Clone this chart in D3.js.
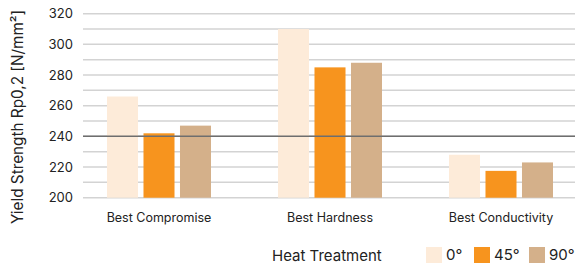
<!DOCTYPE html>
<html>
<head>
<meta charset="utf-8">
<script src="https://cdn.jsdelivr.net/npm/d3@7"></script>
<style>
  body { margin: 0; background: #fff; }
  text { font-family: Inter, "Noto Sans", sans-serif; fill: #222; }
</style>
</head>
<body>
<div id="chart"></div>
<script>
// yield strength per heat treatment angle
var categories = ["Best Compromise", "Best Hardness", "Best Conductivity"];
var seriesNames = ["0°", "45°", "90°"];
var values0 = [266, 310, 228];
var values45 = [242, 285, 217.5];
var values90 = [247, 288, 223];
var yTicks = [200, 220, 240, 260, 280, 300, 320];
var refValue = 240;

var w = 575, h = 269;
var colors = ["#fdebd9", "#f7941e", "#d4b08a"];
var allSeries = [values0, values45, values90];

var svg = d3.select("#chart").append("svg")
  .attr("width", w).attr("height", h);

var y = d3.scaleLinear().domain([200, 320]).range([197.7, 13.7]);
var x0 = d3.scaleBand().domain(categories).range([73.5, 586.5]);
var x1 = d3.scaleBand().domain(seriesNames).range([0, 104]).paddingInner(0.15);

// minor grid every 10
svg.append("g").selectAll("line")
  .data(d3.range(200, 321, 10))
  .enter().append("line")
  .attr("x1", 83).attr("x2", 575)
  .attr("y1", function(d) { return y(d); })
  .attr("y2", function(d) { return y(d); })
  .attr("stroke", "#d3d3d3")
  .attr("stroke-width", 1.5);

// bars
var groups = svg.append("g").selectAll("g")
  .data(categories).enter().append("g")
  .attr("transform", function(d) {
    return "translate(" + (x0(d) + x0.bandwidth() / 2 - 52) + ",0)";
  });

groups.selectAll("rect")
  .data(function(d, i) {
    return seriesNames.map(function(s, j) { return { s: s, v: allSeries[j][i], j: j }; });
  })
  .enter().append("rect")
  .attr("x", function(d) { return x1(d.s); })
  .attr("width", x1.bandwidth())
  .attr("y", function(d) { return y(d.v); })
  .attr("height", function(d) { return y(200) - y(d.v); })
  .attr("fill", function(d) { return colors[d.j]; });

// reference line
svg.append("line")
  .attr("x1", 83).attr("x2", 575)
  .attr("y1", y(refValue)).attr("y2", y(refValue))
  .attr("stroke", "#6e6e6e").attr("stroke-width", 1.5);

// y axis labels
var yAxis = d3.axisLeft(y).tickValues(yTicks).tickSize(0).tickPadding(0);
svg.append("g")
  .attr("transform", "translate(73,0)")
  .call(yAxis)
  .call(function(g) { g.select(".domain").remove(); })
  .selectAll("text")
  .style("font-size", "13px")
  .style("font-family", "Inter, 'Noto Sans', sans-serif")
  .attr("fill", "#222");

svg.append("text")
  .attr("transform", "translate(23,117) rotate(-90)")
  .attr("text-anchor", "middle")
  .style("font-size", "15.3px")
  .text("Yield Strength Rp0,2 [N/mm²]");

// category labels
var xAxis = d3.axisBottom(x0).tickSize(0).tickPadding(0);
svg.append("g")
  .attr("transform", "translate(0,213)")
  .call(xAxis)
  .call(function(g) { g.select(".domain").remove(); })
  .selectAll("text")
  .style("font-size", "12.5px")
  .style("font-family", "Inter, 'Noto Sans', sans-serif")
  .attr("fill", "#222");

// legend
svg.append("text")
  .attr("x", 272).attr("y", 261)
  .style("font-size", "15px")
  .text("Heat Treatment");

var legendX = [426, 474, 529];
var leg = svg.append("g").selectAll("g")
  .data(seriesNames).enter().append("g")
  .attr("transform", function(d, i) { return "translate(" + legendX[i] + ",247)"; });
leg.append("rect")
  .attr("width", 16).attr("height", 16)
  .attr("fill", function(d, i) { return colors[i]; });
leg.append("text")
  .attr("x", 20).attr("y", 13)
  .style("font-size", "15px")
  .text(function(d) { return d; });
</script>
</body>
</html>
